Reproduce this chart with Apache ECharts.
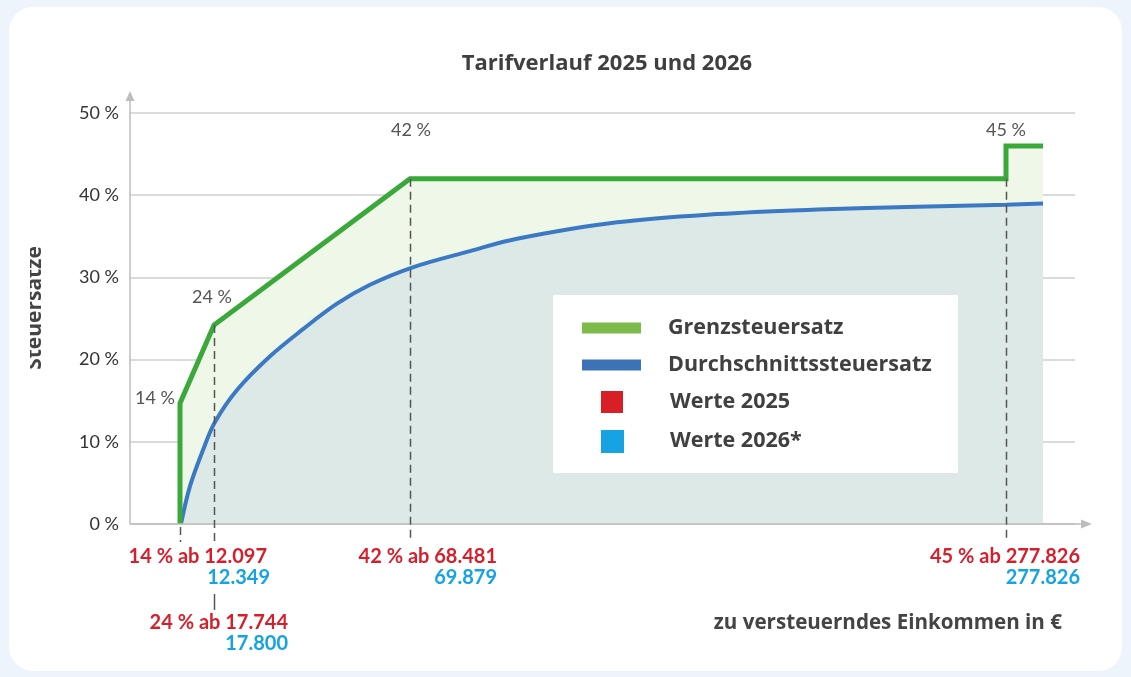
<!DOCTYPE html>
<html><head><meta charset="utf-8">
<script src="https://cdn.jsdelivr.net/npm/echarts@6/dist/echarts.min.js"></script>
<style>
html,body{margin:0;padding:0;background:#eef4fb;}
#wrap{position:relative;width:1131px;height:677px;overflow:hidden;}
#card{position:absolute;left:9px;top:7px;width:1113px;height:664px;border-radius:24px;background:#ffffff;}
#c{position:absolute;left:0;top:0;width:1131px;height:677px;}
</style>
</head><body><div id="wrap"><div id="card"></div><div id="c"></div></div>
<script>
// ---- data ----
const chartTitle = 'Tarifverlauf 2025 und 2026';
const yAxisName = 'Steuersätze';
const xAxisName = 'zu versteuerndes Einkommen in €';
const yTicks = [0, 10, 20, 30, 40, 50];
// schematic (non-linear) income axis: position of the tariff thresholds
const thresholdPos = [50, 84, 280, 876];
const thresholdLabels2025 = ['14 % ab 12.097', '24 % ab 17.744', '42 % ab 68.481', '45 % ab 277.826'];
const thresholdLabels2026 = ['12.349', '17.800', '69.879', '277.826'];
const rateLabels = ['14 %', '24 %', '42 %', '45 %'];
// Grenzsteuersatz (marginal rate)
const grenzX = [50, 50, 84, 280, 876, 876, 913];
const grenzY = [0, 14.7, 24.2, 42, 42, 46, 46];
// Durchschnittssteuersatz (average rate)
const durchX = [51, 60, 73, 85, 107, 140, 173, 207, 240, 282, 340, 387, 487, 587, 687, 787, 876, 913];
const durchY = [0, 4.6, 9.0, 12.4, 16.3, 20.4, 23.7, 26.8, 29.1, 31.2, 33.2, 34.7, 36.7, 37.7, 38.25, 38.6, 38.85, 39.0];
const legendNames = ['Grenzsteuersatz', 'Durchschnittssteuersatz', 'Werte 2025', 'Werte 2026*'];

// ---- styles ----
const FONT = 'Lato';
const FONT2 = 'Open Sans';
const GREEN = '#3aa93a', BLUE = '#3c79c4', RED = '#d61f2b', CYAN = '#15a4e2';
const grenzData = grenzX.map((x, i) => [x, grenzY[i]]);
const durchData = durchX.map((x, i) => [x, durchY[i]]);

const chart = echarts.init(document.getElementById('c'));
chart.setOption({
  animation: false,
  title: { text: chartTitle, left: 602, textAlign: 'center', top: 48,
    textStyle: { fontFamily: FONT2, fontSize: 22, fontWeight: 'bold', color: '#3f3f3f' } },
  grid: { left: 130, right: 56, top: 113, bottom: 153 },
  xAxis: { type: 'value', min: 0, max: 945, show: false },
  yAxis: { type: 'value', min: yTicks[0], max: yTicks[yTicks.length - 1], interval: 10,
    axisLine: { show: false }, axisTick: { show: false },
    splitLine: { lineStyle: { color: '#cfcfcf', width: 1.5 } },
    axisLabel: { formatter: '{value} %', fontFamily: FONT, fontSize: 18, color: '#333333', margin: 11 } },
  series: [
    { name: legendNames[0] + ' Fläche', type: 'line', data: grenzData, symbol: 'none', z: 1,
      lineStyle: { width: 0 }, areaStyle: { color: '#eff7e8', opacity: 1 } },
    { name: legendNames[1], type: 'line', data: durchData, symbol: 'none', z: 2,
      smooth: 0.35,
      lineStyle: { color: BLUE, width: 4 }, areaStyle: { color: '#dce9e6', opacity: 1 } },
    { name: legendNames[0], type: 'line', data: grenzData, symbol: 'none', z: 3,
      lineStyle: { color: GREEN, width: 5, join: 'miter' } }
  ]
});

function px(x, y) { return chart.convertToPixel({ gridIndex: 0 }, [x, y]); }
const origin = px(0, 0);
const axisY = origin[1];
const gfx = [];
const AX = '#bdbdbd';
// axis lines with arrows
const yTop = px(0, yTicks[yTicks.length - 1])[1];
gfx.push({ type: 'line', z: 5, shape: { x1: origin[0], y1: axisY, x2: origin[0], y2: yTop - 16 }, style: { stroke: AX, lineWidth: 1.5 } });
gfx.push({ type: 'polygon', z: 5, shape: { points: [[origin[0] - 4.5, yTop - 12], [origin[0] + 4.5, yTop - 12], [origin[0], yTop - 22]] }, style: { fill: AX } });
const xEnd = px(945, 0)[0];
gfx.push({ type: 'line', z: 5, shape: { x1: origin[0], y1: axisY, x2: xEnd + 10, y2: axisY }, style: { stroke: AX, lineWidth: 1.5 } });
gfx.push({ type: 'polygon', z: 5, shape: { points: [[xEnd + 6, axisY - 4.5], [xEnd + 6, axisY + 4.5], [xEnd + 17, axisY]] }, style: { fill: AX } });

// dashed threshold lines
const dash = { stroke: '#555555', lineWidth: 1.5, lineDash: [8, 5] };
const dashTops = [null, grenzY[2], grenzY[3], grenzY[4]];
thresholdPos.forEach((p, i) => {
  const xp = Math.round(px(p, 0)[0]) + 0.5;
  const top = dashTops[i] === null ? axisY + 3 : px(p, dashTops[i])[1];
  gfx.push({ type: 'line', z: 6, shape: { x1: xp, y1: top, x2: xp, y2: axisY + 18 }, style: dash });
});
// extra segment between the two label rows
{
  const xp = Math.round(px(thresholdPos[1], 0)[0]) + 0.5;
  gfx.push({ type: 'line', z: 6, shape: { x1: xp, y1: axisY + 70, x2: xp, y2: axisY + 86 }, style: { stroke: '#555555', lineWidth: 1.5 } });
}
// threshold value labels
const labDx = [87, 74, 87, 74];
const labRow = [0, 1, 0, 0];
thresholdPos.forEach((p, i) => {
  const xp = px(p, 0)[0];
  const y0 = axisY + 33 + labRow[i] * 66;
  gfx.push({ type: 'text', z: 7, style: { text: thresholdLabels2025[i], x: xp + labDx[i], y: y0, align: 'right', verticalAlign: 'middle',
    fontFamily: FONT, fontSize: 20, fontWeight: 'bold', fill: RED } });
  gfx.push({ type: 'text', z: 7, style: { text: thresholdLabels2026[i], x: xp + labDx[i] + (i === 0 ? 3 : 0), y: y0 + 21, align: 'right', verticalAlign: 'middle',
    fontFamily: FONT, fontSize: 20, fontWeight: 'bold', fill: CYAN } });
});
// rate labels at the corners of the marginal rate line
const rateIdx = [1, 2, 3, 5];
const rateOff = [[-5, -5, 'right'], [-2, -28, 'center'], [1, -49, 'center'], [0, -16, 'center']];
rateIdx.forEach((k, i) => {
  const p = px(grenzX[k], grenzY[k]);
  gfx.push({ type: 'text', z: 7, style: { text: rateLabels[i], x: p[0] + rateOff[i][0], y: p[1] + rateOff[i][1], align: rateOff[i][2], verticalAlign: 'middle',
    fontFamily: FONT, fontSize: 18, fill: '#555555' } });
});
// x axis name
gfx.push({ type: 'text', z: 7, style: { text: xAxisName, x: 1062, y: 623, align: 'right', verticalAlign: 'middle',
  fontFamily: FONT2, fontSize: 20.6, fontWeight: 'bold', fill: '#444444' } });
// y axis name (rotated, cut off at the left as in the original)
gfx.push({ type: 'text', z: 7, x: 46, y: 308, rotation: Math.PI / 2, style: { text: yAxisName, x: 0, y: 0, align: 'center', verticalAlign: 'bottom',
  fontFamily: FONT2, fontSize: 21, fontWeight: 'bold', fill: '#444444' } });
gfx.push({ type: 'rect', z: 8, shape: { x: 9, y: 220, width: 21, height: 180 }, style: { fill: '#ffffff' } });

// legend box
gfx.push({ type: 'rect', z: 9, shape: { x: 553, y: 295, width: 405, height: 178 }, style: { fill: '#ffffff' } });
const legY = [328, 365, 402, 441];
gfx.push({ type: 'rect', z: 10, shape: { x: 582, y: legY[0] - 5.5, width: 59, height: 11 }, style: { fill: '#7dbc4c' } });
gfx.push({ type: 'rect', z: 10, shape: { x: 582, y: legY[1] - 5.5, width: 59, height: 11 }, style: { fill: '#3d72b6' } });
gfx.push({ type: 'rect', z: 10, shape: { x: 601, y: legY[2] - 11, width: 22, height: 22 }, style: { fill: '#d81f26' } });
gfx.push({ type: 'rect', z: 10, shape: { x: 601, y: legY[3] - 11, width: 23, height: 23 }, style: { fill: '#17a3e3' } });
legendNames.forEach((n, i) => {
  gfx.push({ type: 'text', z: 10, style: { text: n, x: i < 2 ? 668 : 670, y: legY[i], align: 'left', verticalAlign: 'middle',
    fontFamily: FONT2, fontSize: 21.5, fontWeight: 'bold', fill: '#404040' } });
});

chart.setOption({ graphic: { elements: gfx } });
</script>
</body></html>
